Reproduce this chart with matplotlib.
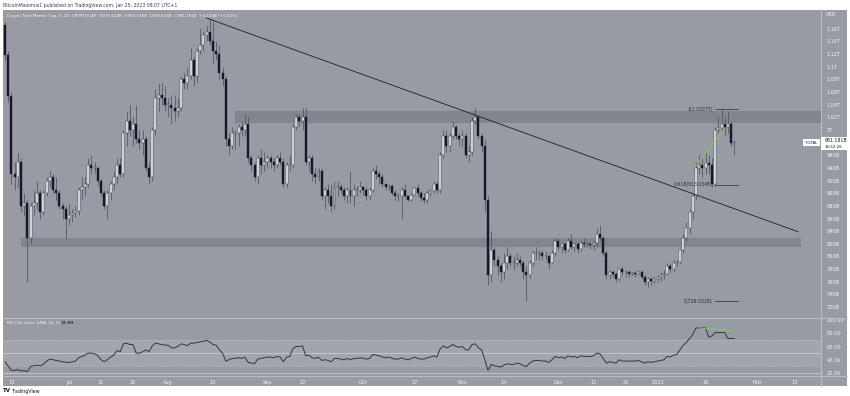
import matplotlib
matplotlib.use("Agg")
import matplotlib.pyplot as plt
import matplotlib.dates as mdates
from matplotlib.patches import Rectangle
import pandas as pd

W, H = 850, 396

dates = pd.date_range("2022-06-11", "2023-01-25", freq="D")
first_open = 1166
closes = [
    1119, 1054, 930, 925, 950, 880, 885, 830, 880, 885,
    900, 870, 900, 920, 925, 905, 900, 880, 875, 860,
    865, 868, 872, 905, 910, 915, 945, 940, 940, 920,
    900, 880, 900, 915, 925, 945, 930, 995, 1015, 1000,
    1010, 985, 980, 985, 940, 925, 1000, 1050, 1055, 1050,
    1040, 1040, 1035, 1030, 1035, 1080, 1075, 1085, 1110, 1085,
    1125, 1135, 1150, 1155, 1140, 1125, 1120, 1090, 1080, 985,
    975, 995, 995, 1005, 1000, 1010, 955, 945, 925, 955,
    945, 950, 955, 950, 945, 955, 950, 915, 945, 945,
    1005, 1020, 1015, 1020, 950, 955, 930, 925, 935, 895,
    905, 895, 880, 910, 910, 905, 895, 905, 895, 905,
    905, 910, 905, 895, 905, 935, 930, 925, 915, 910,
    912, 900, 895, 895, 905, 895, 890, 898, 908, 900,
    893, 890, 900, 903, 915, 905, 960, 990, 975, 990,
    1005, 990, 985, 990, 960, 965, 1015, 1020, 990, 975,
    890, 770, 810, 795, 785, 775, 790, 800, 790, 790,
    795, 790, 775, 770, 790, 805, 805, 805, 800, 800,
    790, 805, 825, 815, 820, 810, 825, 815, 820, 812,
    822, 820, 820, 818, 822, 835, 830, 805, 770, 775,
    772, 765, 780, 775, 775, 772, 773, 772, 775, 768,
    760, 765, 762, 765, 768, 770, 772, 785, 780, 790,
    792, 810, 830, 845, 870, 895, 940, 945, 940, 948,
    945, 915, 1000, 1003, 1010, 1005, 1010, 980, 981.181,
]
highs = [
    1172, 1125, 1060, 950, 965, 955, 900, 890, 885, 905,
    920, 905, 905, 925, 935, 930, 925, 905, 885, 880,
    885, 875, 880, 910, 925, 925, 955, 960, 950, 942,
    922, 905, 905, 920, 935, 955, 955, 1000, 1030, 1040,
    1020, 1040, 1000, 1000, 990, 950, 1005, 1065, 1075, 1075,
    1070, 1050, 1055, 1055, 1050, 1085, 1090, 1100, 1130, 1115,
    1130, 1160, 1155, 1165, 1175, 1170, 1140, 1135, 1100, 1085,
    995, 1005, 1000, 1010, 1015, 1025, 1020, 960, 950, 960,
    970, 965, 960, 960, 955, 960, 965, 955, 950, 960,
    1010, 1025, 1025, 1035, 1035, 960, 960, 940, 940, 940,
    910, 915, 915, 920, 920, 915, 910, 910, 935, 915,
    912, 920, 912, 910, 910, 940, 945, 935, 930, 915,
    915, 915, 905, 900, 910, 915, 897, 900, 912, 915,
    903, 900, 905, 907, 918, 920, 965, 1000, 1000, 995,
    1015, 1008, 995, 1000, 995, 975, 1020, 1035, 1022, 995,
    985, 895, 840, 815, 800, 790, 805, 815, 805, 800,
    805, 800, 795, 785, 795, 810, 815, 810, 810, 808,
    802, 810, 830, 830, 822, 822, 830, 835, 822, 822,
    825, 830, 825, 823, 825, 845, 850, 832, 808, 778,
    778, 775, 782, 785, 778, 778, 776, 775, 778, 778,
    770, 768, 768, 767, 770, 775, 778, 790, 790, 795,
    795, 812, 835, 855, 875, 900, 950, 960, 955, 965,
    960, 955, 1005, 1020, 1035, 1020, 1030, 1015, 983.5,
]
lows = [
    1110, 1045, 915, 905, 910, 870, 865, 760, 820, 865,
    875, 860, 865, 895, 910, 900, 890, 875, 860, 830,
    850, 855, 862, 865, 890, 895, 910, 930, 932, 912,
    895, 875, 860, 890, 905, 915, 925, 925, 975, 990,
    975, 980, 970, 960, 935, 915, 920, 990, 1030, 1040,
    1030, 1020, 1010, 1015, 1020, 1030, 1065, 1065, 1080, 1070,
    1075, 1120, 1125, 1140, 1135, 1105, 1110, 1080, 1070, 975,
    960, 970, 970, 975, 990, 990, 950, 935, 920, 915,
    930, 935, 940, 940, 935, 940, 945, 910, 910, 935,
    940, 1000, 1005, 1000, 945, 935, 920, 915, 920, 890,
    875, 885, 870, 875, 895, 900, 890, 885, 885, 880,
    895, 900, 898, 890, 890, 902, 922, 915, 910, 905,
    905, 897, 890, 888, 860, 892, 887, 888, 895, 895,
    888, 885, 885, 895, 900, 900, 900, 955, 965, 965,
    985, 985, 975, 975, 955, 950, 960, 1010, 985, 965,
    870, 755, 760, 785, 770, 760, 765, 780, 785, 778,
    785, 785, 765, 730, 765, 785, 795, 795, 795, 795,
    780, 788, 800, 810, 805, 805, 808, 812, 808, 805,
    808, 815, 815, 812, 810, 815, 825, 800, 765, 765,
    768, 760, 762, 770, 768, 768, 770, 768, 770, 765,
    755, 752, 755, 758, 760, 762, 765, 770, 775, 775,
    785, 788, 805, 825, 835, 860, 890, 930, 925, 930,
    930, 910, 912, 995, 1000, 990, 995, 975, 959.8,
]
rsi = [
    37, 30, 24, 24, 25, 23, 24, 22, 30, 31,
    32, 31, 33, 38, 41, 40, 39, 38, 37, 36,
    36, 37, 38, 43, 45, 47, 50, 50, 49, 46,
    40, 37, 40, 44, 47, 54, 52, 64, 65, 63,
    63, 50, 50, 52, 55, 52, 61, 65, 64, 63,
    62, 62, 58, 58, 60, 64, 63, 61, 65, 65,
    66, 67, 68, 69, 67, 63, 62, 55, 50, 38,
    40, 42, 42, 43, 42, 44, 36, 35, 34, 41,
    42, 43, 44, 44, 43, 45, 44, 37, 44, 45,
    57, 60, 60, 61, 46, 47, 43, 42, 44, 39,
    40, 39, 37, 42, 42, 41, 40, 42, 40, 42,
    42, 43, 42, 41, 42, 48, 47, 46, 44, 43,
    44, 42, 41, 41, 43, 41, 40, 42, 44, 42,
    41, 41, 43, 44, 46, 44, 56, 61, 58, 60,
    63, 60, 59, 60, 55, 55, 63, 64, 58, 55,
    40, 24, 33, 31, 30, 29, 32, 34, 33, 33,
    35, 34, 31, 30, 35, 38, 39, 39, 38, 38,
    36, 40, 45, 43, 44, 42, 46, 44, 45, 43,
    46, 45, 45, 45, 46, 50, 49, 42, 35, 37,
    36, 35, 40, 38, 38, 38, 38, 38, 39, 37,
    35, 37, 36, 37, 38, 39, 40, 45, 44, 47,
    48, 55, 62, 66, 72, 78, 88, 88, 88, 88,
    74, 76, 81, 81, 81, 81, 72, 72.09, 72.09,
]

time_ticks = ["2022-06-13", "2022-07-01", "2022-07-11", "2022-07-21", "2022-08-01",
              "2022-08-15", "2022-09-01", "2022-09-12", "2022-10-01", "2022-10-17",
              "2022-11-01", "2022-11-14", "2022-12-01", "2022-12-12", "2022-12-22",
              "2023-01-01", "2023-01-16", "2023-02-01", "2023-02-13"]
time_labels = ["13", "Jul", "11", "21", "Aug", "15", "Sep", "12", "Oct", "17",
               "Nov", "14", "Dec", "12", "22", "2023", "16", "Feb", "13"]
price_ticks = [720, 740, 760, 780, 800, 820, 840, 860, 880, 900, 920, 940, 960,
               1000, 1020, 1040, 1060, 1080, 1100, 1120, 1140, 1160]
price_labels = ["720B", "740B", "760B", "780B", "800B", "820B", "840B", "860B", "880B",
                "900B", "920B", "940B", "960B", "1T", "1.02T", "1.04T", "1.06T",
                "1.08T", "1.1T", "1.12T", "1.14T", "1.16T"]
rsi_ticks = [20, 40, 60, 80, 100]
rsi_labels = ["20.00", "40.00", "60.00", "80.00", "100.00"]

zone_top = (1011, 1030, "2022-08-22", "2023-03-01")
zone_low = (815, 829, "2022-06-16", "2023-02-15")
trend_dates = ["2022-08-13", "2023-02-14"]
trend_prices = [1177, 839]
fib_levels = [1032.7, 913.034, 729.031]
fib_labels = ["1(1.0327T)", "0.618(913.034B)", "0(729.031B)"]
fib_dates = ["2023-01-19", "2023-01-26"]
div_dates = ["2023-01-13", "2023-01-22"]
div_prices = [943, 1002]
div_rsi_dates = ["2023-01-14", "2023-01-25"]
div_rsi = [88, 83.4]

BG = "#989ba4"
ZONE = "#82858e"
TXT = "#f2f3f6"
SEP = "#b9bcc4"


def fx(px):
    return px / W


def fy(py):
    return 1 - py / H


fig = plt.figure(figsize=(8.5, 3.96), dpi=100)
fig.patch.set_facecolor("white")

frame = fig.add_axes([fx(3), fy(386), fx(844), 376 / H])
frame.set_facecolor(BG)
frame.set_xticks([])
frame.set_yticks([])
for s in frame.spines.values():
    s.set_visible(False)

ax = fig.add_axes([fx(3), fy(317), fx(818), 305 / H])
rx = fig.add_axes([fx(3), fy(376), fx(818), 58 / H], sharex=ax)
for a in (ax, rx):
    a.set_facecolor("none")
    for s in a.spines.values():
        s.set_visible(False)

x = mdates.date2num(dates)
opens = [first_open] + closes[:-1]
up = [c >= o for o, c in zip(opens, closes)]
bottoms = [min(o, c) for o, c in zip(opens, closes)]
heights = [max(abs(c - o), 1.2) for o, c in zip(opens, closes)]

ax.vlines(x, lows, highs, color="#4a4d56", lw=0.5, zorder=2)
ax.bar(x, heights, bottom=bottoms, width=0.62,
       color=["#ffffff" if u else "#131722" for u in up],
       edgecolor="#1e222d", linewidth=0.3, zorder=3)

xl = (mdates.date2num(pd.Timestamp("2022-06-11")) - 0.64,
      mdates.date2num(pd.Timestamp("2023-02-21")) + 0.1)
ax.set_xlim(xl)
ax.set_ylim(704.3, 1186.6)

for lo, hi, d0, d1 in (zone_top, zone_low):
    x0 = mdates.date2num(pd.Timestamp(d0))
    x1 = mdates.date2num(pd.Timestamp(d1))
    ax.add_patch(Rectangle((x0, lo), x1 - x0, hi - lo, color=ZONE, lw=0, zorder=1))

ax.plot(mdates.date2num(pd.to_datetime(trend_dates)), trend_prices,
        color="#1b1d24", lw=0.6, zorder=4)

fd = mdates.date2num(pd.to_datetime(fib_dates))
for lev, lab in zip(fib_levels, fib_labels):
    ax.plot(fd, [lev, lev], color="#3a3d45", lw=0.6, zorder=4)
    ax.text(fd[0] - 0.8, lev, lab, fontsize=3.3, color="#2a2d35",
            ha="right", va="center", zorder=5)

ax.plot(mdates.date2num(pd.to_datetime(div_dates)), div_prices,
        color="#7bd35a", lw=0.6, zorder=5)

ax.yaxis.tick_right()
ax.set_yticks(price_ticks)
ax.set_yticklabels(price_labels)
ax.tick_params(axis="y", length=0, pad=4, labelsize=3.6, labelcolor=TXT)
ax.tick_params(axis="x", length=0, labelbottom=False)

# RSI pane
rx.axhspan(30, 70, color="#a2a5ae", lw=0, zorder=0)
rx.axhline(70, color=SEP, lw=0.5, ls=(0, (3, 2)))
rx.axhline(30, color=SEP, lw=0.5, ls=(0, (3, 2)))
rx.axhline(50, color="#c9cbd2", lw=0.6)
rx.axhline(20, color="#c9cbd2", lw=0.6)
rx.plot(x, rsi, color="#33363e", lw=0.7)
rx.plot(mdates.date2num(pd.to_datetime(div_rsi_dates)), div_rsi,
        color="#7bd35a", lw=0.6)
rx.set_ylim(15.5, 103)
rx.set_xlim(xl)
rx.yaxis.tick_right()
rx.set_yticks(rsi_ticks)
rx.set_yticklabels(rsi_labels)
rx.tick_params(axis="y", length=0, pad=4, labelsize=3.6, labelcolor=TXT)
rx.set_xticks(mdates.date2num(pd.to_datetime(time_ticks)))
rx.set_xticklabels(time_labels)
rx.tick_params(axis="x", length=0, pad=2.6, labelsize=3.6, labelcolor=TXT)

# separators
fig.add_artist(plt.Line2D([fx(3), fx(847)], [fy(317.5)] * 2, color=SEP, lw=0.8))
fig.add_artist(plt.Line2D([fx(3), fx(847)], [fy(376)] * 2, color=SEP, lw=0.8))
fig.add_artist(plt.Line2D([fx(821)] * 2, [fy(10), fy(386)], color=SEP, lw=0.8))

# texts
fig.text(fx(3), fy(5), "BitcoinMaximus1 published on TradingView.com, Jan 25, 2023 08:07 UTC+1",
         fontsize=3.3, color="#3b3e46", va="center")
fig.text(fx(7), fy(15.5),
         "Crypto Total Market Cap, 5, 1D, CRYPTOCAP  O976.624B  H983.516B  L959.824B  C981.181B  +4.124B (+0.42%)",
         fontsize=3, color=TXT, va="center")
fig.text(fx(7), fy(323.5), "RSI (14, close, SMA, 14, 2)", fontsize=3, color=TXT, va="center")
fig.text(fx(61), fy(323.5), "72.09", fontsize=3, color="#2b2e36", va="center",
         fontweight="bold")
fig.text(fx(826), fy(15), "USD", fontsize=3.6, color=TXT, va="center")
fig.text(fx(3), fy(391), "TV", fontsize=4, color="#131722", va="center", fontweight="bold")
fig.text(fx(12), fy(391), "TradingView", fontsize=3.4, color="#131722", va="center")

# last price tag
fig.patches.append(Rectangle((fx(821), fy(150)), fx(27), 13 / H, transform=fig.transFigure,
                             facecolor="white", edgecolor="none", zorder=5))
fig.text(fx(825), fy(140.5), "981.181B", fontsize=3.3, color="#131722", va="center", zorder=6)
fig.text(fx(825), fy(146.5), "16:52:26", fontsize=2.9, color="#131722", va="center", zorder=6)
fig.patches.append(Rectangle((fx(803), fy(146)), fx(17), 7 / H, transform=fig.transFigure,
                             facecolor="white", edgecolor="none", zorder=5))
fig.text(fx(811.5), fy(142.5), "TOTAL", fontsize=2.8, color="#131722", va="center",
         ha="center", zorder=6)

fig.savefig("out.png", dpi=100)
